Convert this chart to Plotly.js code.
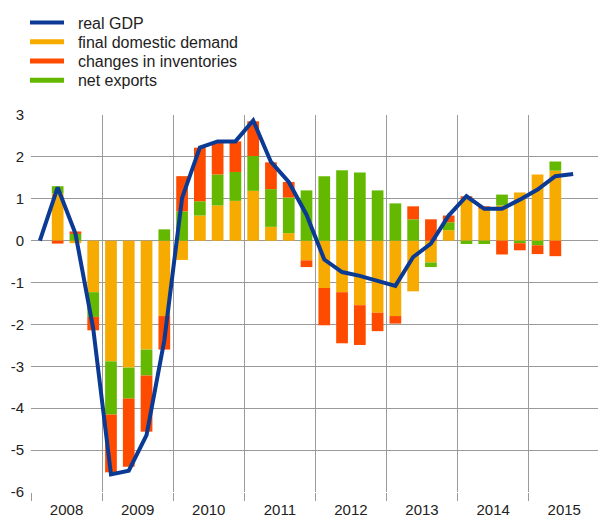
<!DOCTYPE html>
<html>
<head>
<meta charset="utf-8">
<script src="https://cdn.plot.ly/plotly-3.0.1.min.js"></script>
<style>html,body{margin:0;padding:0;background:#fff;}#chart{width:598px;height:520px;}</style>
</head>
<body>
<div id="chart"></div>
<script>
// Quarter index: 0 = 2008 Q1 ... 31 = 2015 Q4
var years = ['2008','2009','2010','2011','2012','2013','2014','2015'];
var yearCentres = [1.5, 5.5, 9.5, 13.5, 17.5, 21.5, 25.5, 29.5];
var yTickVals = [-6,-5,-4,-3,-2,-1,0,1,2,3];
var yTickText = ['-6','-5','-4','-3','-2','-1','0','1','2','3'];

// Bars: 2008 Q2 .. 2015 Q2
var barQuarters = [1,2,3,4,5,6,7,8,9,10,11,12,13,14,15,16,17,18,19,20,21,22,23,24,25,26,27,28,29];
var finalDomesticDemand = [1.13,-0.06,-1.23,-2.88,-3.03,-2.60,-1.80,-0.46,0.60,0.84,0.95,1.19,0.33,0.18,-0.47,-1.13,-1.23,-1.54,-1.72,-1.80,-1.21,-0.52,0.25,1.00,0.76,0.84,1.15,1.58,1.67];
var netExports = [0.17,0.16,-0.59,-1.27,-0.74,-0.62,0.27,0.70,0.34,0.74,0.69,0.83,0.90,0.85,1.20,1.54,1.68,1.63,1.20,0.89,0.51,-0.11,0.19,-0.08,-0.08,0.26,-0.06,-0.11,0.22];
var inventories = [-0.07,0.06,-0.32,-1.38,-1.63,-1.34,-0.80,0.84,1.28,0.75,0.73,0.83,0.64,0.37,-0.16,-0.89,-1.22,-0.95,-0.44,-0.18,0.31,0.51,0.16,0.06,0.06,-0.33,-0.17,-0.21,-0.37];

// Real GDP line: 2008 Q1 .. 2015 Q3
var gdpQuarters = [0,1,2,3,4,5,6,7,8,9,10,11,12,13,14,15,16,17,18,19,20,21,22,23,24,25,26,27,28,29,30];
var realGDP = [0,1.27,0.17,-2.10,-5.58,-5.49,-4.64,-2.38,1.02,2.22,2.37,2.37,2.87,1.88,1.40,0.62,-0.45,-0.75,-0.84,-0.97,-1.08,-0.39,-0.07,0.60,1.06,0.76,0.76,0.98,1.22,1.54,1.59];

var cBlue = '#0a3a94', cYellow = '#f7ab00', cRed = '#ff4b00', cGreen = '#65b800';
var pad = '\u00a0\u00a0';

var traces = [
  {type:'bar', x:barQuarters, y:finalDomesticDemand, marker:{color:cYellow, line:{width:0}}, showlegend:false, hoverinfo:'skip'},
  {type:'bar', x:barQuarters, y:netExports, marker:{color:cGreen, line:{width:0}}, showlegend:false, hoverinfo:'skip'},
  {type:'bar', x:barQuarters, y:inventories, marker:{color:cRed, line:{width:0}}, showlegend:false, hoverinfo:'skip'},
  {type:'scatter', mode:'lines', x:gdpQuarters, y:realGDP, name:pad+'real GDP', line:{color:cBlue, width:4}, legend:'legend'},
  {type:'scatter', mode:'lines', x:[null], y:[null], name:pad+'final domestic demand', line:{color:cYellow, width:5}, legend:'legend2'},
  {type:'scatter', mode:'lines', x:[null], y:[null], name:pad+'changes in inventories', line:{color:cRed, width:5}, legend:'legend3'},
  {type:'scatter', mode:'lines', x:[null], y:[null], name:pad+'net exports', line:{color:cGreen, width:5}, legend:'legend4'}
];

function leg(yc){
  return {xref:'container', yref:'container', x:25/598, y:1-yc/520, xanchor:'left', yanchor:'middle',
          font:{size:16, color:'#222'}, bgcolor:'rgba(0,0,0,0)', itemwidth:34, borderwidth:0};
}

var layout = {
  width:598, height:520,
  margin:{l:31, r:0, t:115, b:28, autoexpand:false},
  paper_bgcolor:'#fff', plot_bgcolor:'#fff',
  font:{family:'"Liberation Sans", Arial, sans-serif', color:'#222', size:15},
  barmode:'relative', bargap:0.34,
  showlegend:true,
  legend:leg(22.7), legend2:leg(41.9), legend3:leg(61.1), legend4:leg(80.3),
  xaxis:{range:[-0.5,31.4], tickmode:'array', tickvals:yearCentres, ticktext:years, ticks:'', showgrid:false,
         zeroline:false, showline:false, tickfont:{size:15}, ticklabelstandoff:7, automargin:false,
         minor:{tickmode:'linear', tick0:-0.5, dtick:4, showgrid:true, gridcolor:'#9a9a9a', gridwidth:1,
                ticks:'outside', ticklen:8, tickcolor:'#9a9a9a', tickwidth:1}},
  yaxis:{range:[-6,3], tickmode:'array', tickvals:yTickVals, ticktext:yTickText, showgrid:true, gridcolor:'#9a9a9a', gridwidth:1,
         zeroline:false, showline:false, ticks:'', tickfont:{size:15}, ticklabelstandoff:6, automargin:false}
};

Plotly.newPlot('chart', traces, layout, {staticPlot:true, displayModeBar:false});
</script>
</body>
</html>
